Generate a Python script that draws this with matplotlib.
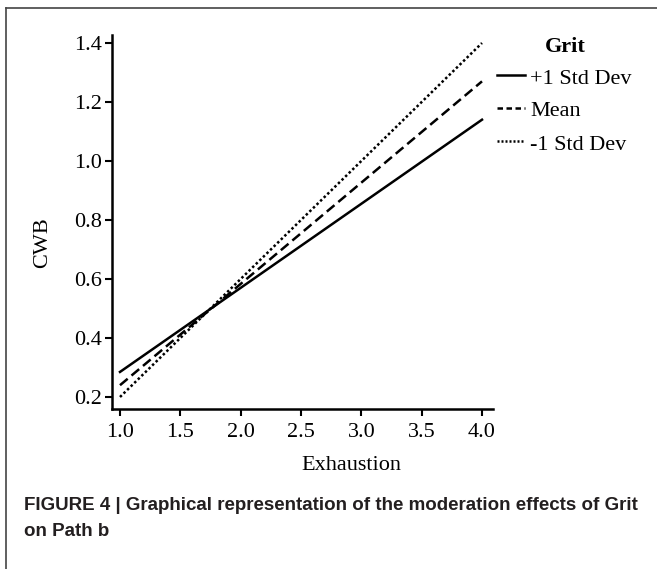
import matplotlib
matplotlib.use('Agg')
import matplotlib.pyplot as plt
from matplotlib.lines import Line2D

# data
exhaustion = [1.0, 4.0]
cwb_plus = [0.285, 1.14]
cwb_mean = [0.24, 1.27]
cwb_minus = [0.20, 1.40]
labels = ['+1 Std Dev', 'Mean', '-1 Std Dev']
xticks = [1.0, 1.5, 2.0, 2.5, 3.0, 3.5, 4.0]
yticks = [0.2, 0.4, 0.6, 0.8, 1.0, 1.2, 1.4]

W, H = 657, 569
fig = plt.figure(figsize=(W / 100, H / 100), dpi=100)

serif = 'Liberation Serif'

# axes placed in pixel coords: x from 112 to 493, y from 35 to 409
x0, x1 = 112, 493
y0, y1 = 35, 409
ax = fig.add_axes([x0 / W, 1 - y1 / H, (x1 - x0) / W, (y1 - y0) / H])

ax.plot(exhaustion, cwb_plus, color='black', lw=1.8, ls='-')
ax.plot(exhaustion, cwb_mean, color='black', lw=1.8, ls=(0, (4, 2)))
ax.plot(exhaustion, cwb_minus, color='black', lw=1.8, ls=(0, (1, 1)))

# x: 1.0 at px 120, 4.0 at px 482
xs = 362 / 3.0
ax.set_xlim(1.0 - (120 - x0) / xs, 4.0 + (x1 - 482) / xs)
# y: 1.4 at px 43, 0.2 at px 397
ys = 354 / 1.2
ax.set_ylim(0.2 - (y1 - 397) / ys, 1.4 + (43 - y0) / ys)

ax.set_xticks(xticks)
ax.set_xticklabels([f'{t:.1f}' for t in xticks], fontfamily=serif, fontsize=16)
ax.set_yticks(yticks)
ax.set_yticklabels([f'{t:.1f}' for t in yticks], fontfamily=serif, fontsize=16)
ax.tick_params(direction='out', length=5, width=1.5, colors='black', pad=2)
ax.tick_params(axis='x', pad=5)
for side in ['top', 'right']:
    ax.spines[side].set_visible(False)
for side in ['left', 'bottom']:
    ax.spines[side].set_linewidth(1.8)

fig.text(351 / W, 1 - 466 / H, 'Exhaustion', fontfamily=serif, fontsize=16,
         ha='center', va='center')
fig.text(43 / W, 1 - 243 / H, 'CWB', fontfamily=serif, fontsize=16,
         ha='center', va='center', rotation=90)

# legend
fig.text(565 / W, 1 - 47 / H, 'Grit', fontfamily=serif, fontsize=16,
         fontweight='bold', ha='center', va='center')
styles = ['-', (0, (2.2, 1.4)), (0, (0.8, 0.8))]
rows = [79, 112, 145]
for lab, st, yy in zip(labels, styles, rows):
    ly = 1 - (yy - 4) / H
    fig.add_artist(Line2D([497 / W, 525 / W], [ly, ly], color='black',
                          lw=1.8, ls=st))
    fig.text(530 / W, 1 - yy / H, lab, fontfamily=serif, fontsize=16,
             ha='left', va='center')

# caption
fig.text(24 / W, 1 - 505 / H,
         'FIGURE 4 | Graphical representation of the moderation effects of Grit',
         fontfamily='Liberation Sans', fontweight='bold', fontsize=13.5,
         color='#231f20', ha='left', va='center')
fig.text(24 / W, 1 - 532 / H, 'on Path b',
         fontfamily='Liberation Sans', fontweight='bold', fontsize=13.5,
         color='#231f20', ha='left', va='center')

# page frame (top and left only)
fig.add_artist(Line2D([6 / W, 1], [1 - 8 / H, 1 - 8 / H], color='#444444', lw=1.2))
fig.add_artist(Line2D([6 / W, 6 / W], [1 - 8 / H, 0], color='#444444', lw=1.2))

fig.savefig('out.png', dpi=100)
